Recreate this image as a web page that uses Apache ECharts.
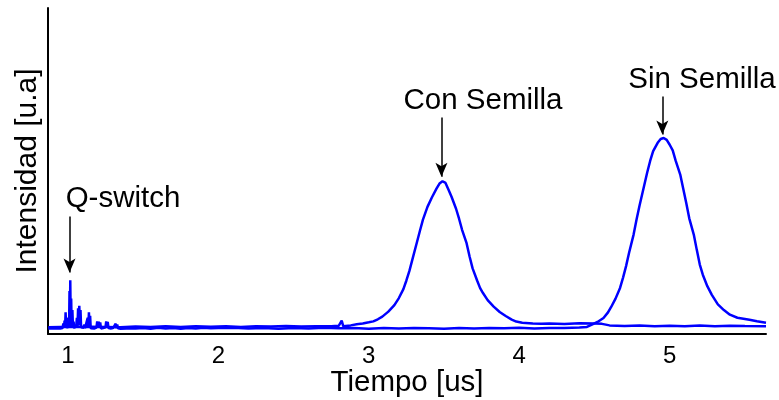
<!DOCTYPE html>
<html>
<head>
<meta charset="utf-8">
<script src="https://cdn.jsdelivr.net/npm/echarts@6/dist/echarts.min.js"></script>
<style>
  html, body { margin: 0; padding: 0; background: #fff; }
  #chart { width: 779px; height: 400px; }
</style>
</head>
<body>
<div id="chart"></div>
<script>
var FONT = '"Liberation Sans", Arial, sans-serif'

// traza "Con Semilla" (tiempo en us, intensidad normalizada)
var seedTime = [0.87, 0.95, 1.05, 1.15, 1.25, 1.35, 1.45, 1.55, 1.65, 1.75, 1.85, 1.95, 2.05, 2.15, 2.25, 2.35, 2.45, 2.55, 2.65, 2.75, 2.80, 2.82, 2.83, 2.88, 2.92, 2.96, 3.00, 3.03, 3.06, 3.09, 3.13, 3.17, 3.20, 3.23, 3.25, 3.27, 3.29, 3.32, 3.34, 3.36, 3.39, 3.42, 3.45, 3.47, 3.49, 3.51, 3.53, 3.55, 3.58, 3.60, 3.62, 3.65, 3.67, 3.69, 3.72, 3.74, 3.76, 3.79, 3.83, 3.87, 3.91, 3.95, 3.98, 4.02, 4.09, 4.15, 4.20, 4.30, 4.40, 4.50, 4.55, 4.60, 4.70, 4.80, 4.90, 5.00, 5.10, 5.20, 5.30, 5.40, 5.50, 5.64]
var seedIntensity = [0.010, 0.012, 0.011, 0.013, 0.012, 0.010, 0.014, 0.011, 0.015, 0.012, 0.016, 0.013, 0.015, 0.012, 0.016, 0.014, 0.017, 0.014, 0.016, 0.015, 0.018, 0.045, 0.016, 0.020, 0.026, 0.030, 0.036, 0.041, 0.052, 0.066, 0.092, 0.126, 0.163, 0.210, 0.255, 0.305, 0.365, 0.455, 0.515, 0.573, 0.640, 0.690, 0.735, 0.762, 0.774, 0.765, 0.730, 0.693, 0.630, 0.578, 0.520, 0.450, 0.380, 0.318, 0.255, 0.215, 0.188, 0.152, 0.118, 0.090, 0.069, 0.050, 0.040, 0.034, 0.030, 0.028, 0.030, 0.027, 0.031, 0.030, 0.028, 0.020, 0.017, 0.019, 0.016, 0.018, 0.015, 0.019, 0.016, 0.018, 0.017, 0.016]

// traza "Sin Semilla", incluye los picos del Q-switch
var noSeedTime = [0.87, 0.95, 0.965, 0.970, 0.975, 0.978, 0.982, 0.985, 0.988, 0.991, 0.995, 1.000, 1.004, 1.008, 1.011, 1.014, 1.016, 1.019, 1.022, 1.025, 1.030, 1.034, 1.038, 1.042, 1.050, 1.055, 1.060, 1.064, 1.068, 1.072, 1.076, 1.080, 1.084, 1.088, 1.095, 1.105, 1.110, 1.114, 1.125, 1.132, 1.136, 1.140, 1.144, 1.148, 1.152, 1.165, 1.175, 1.190, 1.195, 1.200, 1.205, 1.210, 1.215, 1.220, 1.235, 1.250, 1.255, 1.260, 1.265, 1.270, 1.285, 1.300, 1.318, 1.322, 1.328, 1.333, 1.350, 1.390, 1.395, 1.400, 1.45, 1.50, 1.55, 1.60, 1.65, 1.70, 1.75, 1.80, 1.85, 1.90, 1.95, 2.00, 2.10, 2.20, 2.30, 2.40, 2.50, 2.60, 2.70, 2.80, 2.90, 3.00, 3.10, 3.20, 3.30, 3.40, 3.50, 3.60, 3.70, 3.80, 3.90, 4.00, 4.10, 4.20, 4.30, 4.40, 4.45, 4.49, 4.52, 4.56, 4.59, 4.61, 4.64, 4.67, 4.69, 4.71, 4.73, 4.76, 4.78, 4.80, 4.83, 4.85, 4.87, 4.89, 4.92, 4.94, 4.96, 4.98, 5.00, 5.02, 5.04, 5.07, 5.09, 5.11, 5.13, 5.16, 5.18, 5.20, 5.22, 5.25, 5.28, 5.32, 5.36, 5.40, 5.45, 5.50, 5.53, 5.58, 5.64]
var noSeedIntensity = [0.004, 0.004, 0.006, 0.030, 0.012, 0.045, 0.020, 0.088, 0.015, 0.060, 0.005, 0.010, 0.060, 0.010, 0.200, 0.020, 0.256, 0.030, 0.160, 0.015, 0.100, 0.010, 0.040, 0.005, 0.020, 0.008, 0.060, 0.010, 0.110, 0.020, 0.123, 0.025, 0.100, 0.010, 0.006, 0.008, 0.025, 0.006, 0.004, 0.060, 0.008, 0.088, 0.010, 0.070, 0.005, 0.006, 0.004, 0.008, 0.041, 0.010, 0.040, 0.008, 0.035, 0.004, 0.006, 0.010, 0.041, 0.008, 0.038, 0.006, 0.004, 0.006, 0.029, 0.006, 0.025, 0.005, 0.003, 0.004, 0.012, 0.004, 0.004, 0.007, 0.003, 0.008, 0.004, 0.006, 0.003, 0.007, 0.004, 0.008, 0.005, 0.006, 0.008, 0.004, 0.007, 0.003, 0.006, 0.004, 0.008, 0.005, 0.006, 0.003, 0.007, 0.004, 0.006, 0.005, 0.003, 0.007, 0.004, 0.006, 0.005, 0.008, 0.004, 0.007, 0.006, 0.009, 0.012, 0.027, 0.038, 0.059, 0.088, 0.115, 0.160, 0.216, 0.270, 0.330, 0.400, 0.495, 0.575, 0.648, 0.750, 0.818, 0.880, 0.931, 0.975, 0.995, 1.000, 0.990, 0.965, 0.935, 0.880, 0.809, 0.735, 0.660, 0.580, 0.495, 0.415, 0.338, 0.285, 0.225, 0.180, 0.130, 0.100, 0.076, 0.060, 0.054, 0.050, 0.042, 0.034]

// flechas: tiempo, inicio y punta
var arrowTime = [1.011, 3.483, 4.951]
var arrowTop = [0.59, 1.107, 1.217]
var arrowTip = [0.296, 0.798, 1.018]

function zip (xs, ys) {
  return xs.map(function (x, i) { return [x, ys[i]] })
}

var arrows = arrowTime.map(function (t, i) {
  return [{ coord: [t, arrowTop[i]] }, { coord: [t, arrowTip[i]] }]
})

var chart = echarts.init(document.getElementById('chart'))
chart.setOption({
  animation: false,
  grid: { left: 48, right: 13, top: 8, bottom: 66, outerBoundsMode: 'none' },
  xAxis: {
    type: 'value',
    min: 0.868,
    max: 5.64,
    name: 'Tiempo [us]',
    nameLocation: 'middle',
    nameGap: 34,
    nameMoveOverlap: false,
    nameTextStyle: { fontSize: 29.5, color: '#000', fontFamily: FONT },
    axisLine: { onZero: false, lineStyle: { color: '#000', width: 2 } },
    axisTick: { show: false },
    splitLine: { show: false },
    axisLabel: {
      fontSize: 24,
      color: '#000',
      fontFamily: FONT,
      margin: 10,
      formatter: function (v) { return Number.isInteger(v) ? String(v) : '' }
    }
  },
  yAxis: {
    type: 'value',
    min: -0.025,
    max: 1.68,
    name: 'Intensidad [u.a]',
    nameLocation: 'middle',
    nameGap: 5,
    nameMoveOverlap: false,
    nameTextStyle: { fontSize: 30, color: '#000', fontFamily: FONT },
    axisLine: { show: true, onZero: false, lineStyle: { color: '#000', width: 2 } },
    axisTick: { show: false },
    axisLabel: { show: false },
    splitLine: { show: false }
  },
  series: [
    {
      name: 'Con Semilla',
      type: 'line',
      showSymbol: false,
      data: zip(seedTime, seedIntensity),
      lineStyle: { color: '#0000ff', width: 2.5 }
    },
    {
      name: 'Sin Semilla',
      type: 'line',
      showSymbol: false,
      data: zip(noSeedTime, noSeedIntensity),
      lineStyle: { color: '#0000ff', width: 2.5 },
      markLine: {
        silent: true,
        symbol: ['none', 'arrow'],
        symbolSize: [9, 14],
        label: { show: false },
        lineStyle: { color: '#000', width: 1.5, type: 'solid' },
        data: arrows
      }
    }
  ],
  graphic: [
    { type: 'text', x: 123, y: 199, style: { text: 'Q-switch', font: '29.5px ' + FONT, fill: '#000', align: 'center', verticalAlign: 'middle' } },
    { type: 'text', x: 483, y: 101, style: { text: 'Con Semilla', font: '29.5px ' + FONT, fill: '#000', align: 'center', verticalAlign: 'middle' } },
    { type: 'text', x: 702, y: 80, style: { text: 'Sin Semilla', font: '29.5px ' + FONT, fill: '#000', align: 'center', verticalAlign: 'middle' } }
  ]
})
</script>
</body>
</html>
